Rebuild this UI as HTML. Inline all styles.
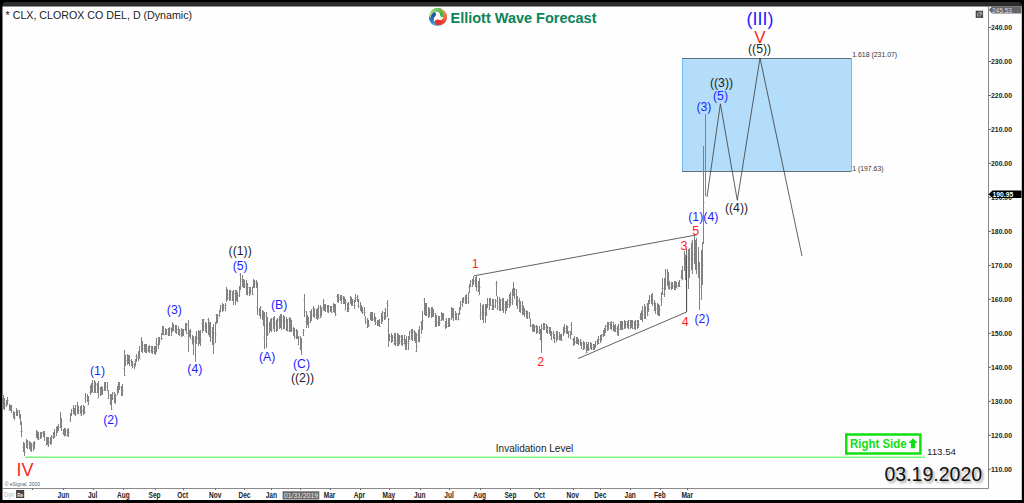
<!DOCTYPE html>
<html><head><meta charset="utf-8"><style>
html,body{margin:0;padding:0;background:#000;}
svg{display:block;}
text{font-family:'Liberation Sans',sans-serif;}
</style></head><body>
<svg width="1024" height="503" viewBox="0 0 1024 503">
<rect x="0" y="0" width="1024" height="503" fill="#000"/>
<rect x="2.5" y="2" width="1019.3" height="20" rx="3.5" fill="#2b2b2b"/>
<rect x="2.5" y="6.5" width="1019.3" height="493.5" fill="#fefefe"/>
<path d="M988.5 6.5V488.5M2.5 488.5H988.5" stroke="#8a8a8a" stroke-width="1" fill="none"/>
<rect x="682" y="58" width="170" height="114" fill="#b4ddfa"/>
<path d="M682.5 58V172M851.5 58V172" stroke="#6fbdf6" stroke-width="1" shape-rendering="crispEdges"/>
<path d="M682 58.5H851M682 171.5H851" stroke="#5f6f7c" stroke-width="1" shape-rendering="crispEdges"/>
<path d="M25 457.3H925" stroke="#78f878" stroke-width="1.4"/>
<path d="M2 396.5H3M4 403.5H5M3 399.5H4M5 403.5H6M5 405.5H6M7 401.5H8M6 402.5H7M8 400.5H9M8 410.5H9M10 406.5H11M9 410.5H10M11 406.5H12M10 409.5H11M12 406.5H13M12 414.5H13M14 413.5H15M13 418.5H14M15 417.5H16M15 412.5H16M17 415.5H18M16 410.5H17M18 412.5H19M18 410.5H19M20 415.5H21M19 418.5H20M21 421.5H22M20 431.5H21M22 431.5H23M22 447.5H23M24 449.5H25M23 444.5H24M25 452.5H26M25 442.5H26M27 443.5H28M26 442.5H27M28 441.5H29M28 443.5H29M30 444.5H31M29 447.5H30M31 450.5H32M30 445.5H31M32 446.5H33M32 444.5H33M34 444.5H35M33 446.5H34M35 443.5H36M35 434.5H36M37 437.5H38M36 436.5H37M38 432.5H39M37 439.5H38M39 439.5H40M39 437.5H40M41 432.5H42M40 434.5H41M42 432.5H43M42 433.5H43M44 431.5H45M43 433.5H44M45 434.5H46M45 445.5H46M47 441.5H48M46 440.5H47M48 439.5H49M47 446.5H48M49 442.5H50M49 441.5H50M51 445.5H52M50 438.5H51M52 436.5H53M52 437.5H53M54 434.5H55M53 437.5H54M55 436.5H56M55 433.5H56M57 429.5H58M56 426.5H57M58 426.5H59M57 430.5H58M59 427.5H60M59 427.5H60M61 428.5H62M60 421.5H61M62 421.5H63M62 433.5H63M64 435.5H65M63 433.5H64M65 434.5H66M64 436.5H65M66 435.5H67M66 430.5H67M68 435.5H69M67 436.5H68M69 432.5H70M69 419.5H70M71 415.5H72M70 414.5H71M72 410.5H73M72 408.5H73M74 410.5H75M73 412.5H74M75 412.5H76M74 414.5H75M76 414.5H77M76 405.5H77M78 405.5H79M77 408.5H78M79 410.5H80M79 410.5H80M81 411.5H82M80 415.5H81M82 411.5H83M82 410.5H83M84 407.5H85M83 410.5H84M85 412.5H86M84 398.5H85M86 400.5H87M86 396.5H87M88 400.5H89M87 404.5H88M89 400.5H90M89 392.5H90M91 389.5H92M90 390.5H91M92 392.5H93M91 387.5H92M93 392.5H94M93 386.5H94M95 381.5H96M94 391.5H95M96 392.5H97M96 384.5H97M98 392.5H99M97 398.5H98M99 388.5H100M99 388.5H100M101 391.5H102M100 389.5H101M102 392.5H103M101 387.5H102M103 390.5H104M103 390.5H104M105 389.5H106M104 384.5H105M106 382.5H107M106 386.5H107M108 390.5H109M107 398.5H108M109 395.5H110M109 402.5H110M111 399.5H112M110 395.5H111M112 409.5H113M111 399.5H112M113 393.5H114M113 398.5H114M115 402.5H116M114 396.5H115M116 395.5H117M116 389.5H117M118 389.5H119M117 384.5H118M119 386.5H120M118 388.5H119M120 387.5H121M120 387.5H121M122 394.5H123M121 389.5H122M123 390.5H124M123 368.5H124M125 375.5H126M124 362.5H125M126 360.5H127M126 355.5H127M128 362.5H129M127 363.5H128M129 363.5H130M128 358.5H129M130 360.5H131M130 366.5H131M132 366.5H133M131 368.5H132M133 364.5H134M133 366.5H134M135 366.5H136M134 361.5H135M136 360.5H137M135 356.5H136M137 356.5H138M137 358.5H138M139 358.5H140M138 351.5H139M140 359.5H141M140 339.5H141M142 348.5H143M141 351.5H142M143 348.5H144M143 345.5H144M145 348.5H146M144 351.5H145M146 351.5H147M145 350.5H146M147 350.5H148M147 348.5H148M149 346.5H150M148 350.5H149M150 350.5H151M150 346.5H151M152 352.5H153M151 350.5H152M153 351.5H154M153 348.5H154M155 347.5H156M154 348.5H155M156 352.5H157M155 343.5H156M157 345.5H158M157 344.5H158M159 337.5H160M158 339.5H159M160 341.5H161M160 338.5H161M162 338.5H163M161 330.5H162M163 330.5H164M162 334.5H163M164 334.5H165M164 335.5H165M166 331.5H167M165 330.5H166M167 333.5H168M167 329.5H168M169 334.5H170M168 333.5H169M170 329.5H171M170 328.5H171M172 328.5H173M171 327.5H172M173 327.5H174M172 326.5H173M174 330.5H175M174 326.5H175M176 332.5H177M175 328.5H176M177 329.5H178M177 332.5H178M179 330.5H180M178 329.5H179M180 334.5H181M180 330.5H181M182 330.5H183M181 335.5H182M183 335.5H184M182 336.5H183M184 336.5H185M184 329.5H185M186 327.5H187M185 323.5H186M187 333.5H188M187 324.5H188M189 335.5H190M188 337.5H189M190 332.5H191M189 333.5H190M191 331.5H192M191 339.5H192M193 337.5H194M192 344.5H193M194 339.5H195M194 341.5H195M196 338.5H197M195 334.5H196M197 338.5H198M197 337.5H198M199 337.5H200M198 332.5H199M200 335.5H201M199 338.5H200M201 340.5H202M201 323.5H202M203 325.5H204M202 329.5H203M204 319.5H205M204 326.5H205M206 328.5H207M205 331.5H206M207 332.5H208M207 319.5H208M209 320.5H210M208 333.5H209M210 332.5H211M209 323.5H210M211 337.5H212M211 332.5H212M213 329.5H214M212 332.5H213M214 343.5H215M214 333.5H215M216 334.5H217M215 314.5H216M217 317.5H218M216 322.5H217M218 318.5H219M218 315.5H219M220 312.5H221M219 308.5H220M221 307.5H222M221 305.5H222M223 304.5H224M222 309.5H223M224 305.5H225M224 307.5H225M226 305.5H227M225 299.5H226M227 290.5H228M226 299.5H227M228 294.5H229M228 297.5H229M230 300.5H231M229 300.5H230M231 291.5H232M231 300.5H232M233 300.5H234M232 295.5H233M234 293.5H235M234 290.5H235M236 300.5H237M235 292.5H236M237 290.5H238M236 293.5H237M238 301.5H239M238 295.5H239M240 291.5H241M239 274.5H240M241 281.5H242M241 279.5H242M243 286.5H244M242 286.5H243M244 279.5H245M243 282.5H244M245 286.5H246M245 284.5H246M247 295.5H248M246 287.5H247M248 287.5H249M248 292.5H249M250 295.5H251M249 294.5H250M251 294.5H252M251 291.5H252M253 294.5H254M252 286.5H253M254 286.5H255M253 283.5H254M255 283.5H256M255 281.5H256M257 282.5H258M256 307.5H257M258 290.5H259M258 310.5H259M260 316.5H261M259 310.5H260M261 307.5H262M261 315.5H262M263 313.5H264M262 322.5H263M264 324.5H265M263 337.5H264M265 316.5H266M265 325.5H266M267 338.5H268M266 320.5H267M268 334.5H269M268 333.5H269M270 328.5H271M269 330.5H270M271 320.5H272M270 330.5H271M272 319.5H273M272 329.5H273M274 324.5H275M273 330.5H274M275 324.5H276M275 322.5H276M277 327.5H278M276 319.5H277M278 320.5H279M278 319.5H279M280 316.5H281M279 319.5H280M281 317.5H282M280 316.5H281M282 321.5H283M282 317.5H283M284 325.5H285M283 329.5H284M285 320.5H286M285 329.5H286M287 331.5H288M286 321.5H287M288 319.5H289M288 330.5H289M290 323.5H291M289 320.5H290M291 318.5H292M290 321.5H291M292 328.5H293M292 330.5H293M294 332.5H295M293 333.5H294M295 336.5H296M295 330.5H296M297 338.5H298M296 330.5H297M298 338.5H299M297 344.5H298M299 337.5H300M299 348.5H300M301 348.5H302M300 341.5H301M302 342.5H303M302 332.5H303M304 330.5H305M303 300.5H304M305 311.5H306M305 321.5H306M307 324.5H308M306 321.5H307M308 321.5H309M307 324.5H308M309 322.5H310M309 311.5H310M311 318.5H312M310 318.5H311M312 315.5H313M312 308.5H313M314 311.5H315M313 309.5H314M315 314.5H316M315 314.5H316M317 310.5H318M316 310.5H317M318 318.5H319M317 316.5H318M319 307.5H320M319 318.5H320M321 317.5H322M320 308.5H321M322 310.5H323M322 307.5H323M324 301.5H325M323 310.5H324M325 305.5H326M324 305.5H325M326 306.5H327M326 306.5H327M328 306.5H329M327 312.5H328M329 306.5H330M329 310.5H330M331 308.5H332M330 310.5H331M332 312.5H333M332 306.5H333M334 310.5H335M333 307.5H334M335 311.5H336M334 305.5H335M336 314.5H337M336 296.5H337M338 299.5H339M337 300.5H338M339 297.5H340M339 299.5H340M341 298.5H342M340 296.5H341M342 297.5H343M342 298.5H343M344 296.5H345M343 301.5H344M345 299.5H346M344 310.5H345M346 302.5H347M346 311.5H347M348 310.5H349M347 309.5H348M349 308.5H350M349 304.5H350M351 302.5H352M350 298.5H351M352 302.5H353M351 304.5H352M353 299.5H354M353 301.5H354M355 305.5H356M354 298.5H355M356 299.5H357M356 297.5H357M358 296.5H359M357 305.5H358M359 300.5H360M359 306.5H360M361 308.5H362M360 306.5H361M362 307.5H363M361 312.5H362M363 312.5H364M363 310.5H364M365 312.5H366M364 318.5H365M366 321.5H367M366 327.5H367M368 318.5H369M367 327.5H368M369 325.5H370M369 315.5H370M371 314.5H372M370 318.5H371M372 318.5H373M371 320.5H372M373 319.5H374M373 318.5H374M375 316.5H376M374 324.5H375M376 318.5H377M376 322.5H377M378 321.5H379M377 324.5H378M379 324.5H380M378 322.5H379M380 326.5H381M380 322.5H381M382 323.5H383M381 313.5H382M383 312.5H384M383 317.5H384M385 319.5H386M384 309.5H385M386 316.5H387M386 303.5H387M388 305.5H389M387 330.5H388M389 319.5H390M388 336.5H389M390 336.5H391M390 341.5H391M392 339.5H393M391 340.5H392M393 337.5H394M393 343.5H394M395 334.5H396M394 336.5H395M396 343.5H397M396 340.5H397M398 340.5H399M397 338.5H398M399 344.5H400M398 337.5H399M400 341.5H401M400 336.5H401M402 343.5H403M401 339.5H402M403 339.5H404M403 343.5H404M405 335.5H406M404 344.5H405M406 343.5H407M405 342.5H406M407 343.5H408M407 341.5H408M409 341.5H410M408 337.5H409M410 332.5H411M410 330.5H411M412 334.5H413M411 331.5H412M413 332.5H414M413 331.5H414M415 332.5H416M414 335.5H415M416 334.5H417M415 351.5H416M417 346.5H418M417 335.5H418M419 342.5H420M418 329.5H419M420 337.5H421M420 322.5H421M422 326.5H423M421 323.5H422M423 320.5H424M423 300.5H424M425 308.5H426M424 309.5H425M426 311.5H427M425 312.5H426M427 314.5H428M427 314.5H428M429 314.5H430M428 308.5H429M430 312.5H431M430 310.5H431M432 311.5H433M431 314.5H432M433 316.5H434M432 312.5H433M434 313.5H435M434 321.5H435M436 315.5H437M435 316.5H436M437 322.5H438M437 322.5H438M439 325.5H440M438 318.5H439M440 323.5H441M440 320.5H441M442 315.5H443M441 313.5H442M443 316.5H444M442 316.5H443M444 315.5H445M444 325.5H445M446 323.5H447M445 319.5H446M447 326.5H448M447 323.5H448M449 320.5H450M448 324.5H449M450 325.5H451M450 318.5H451M452 313.5H453M451 316.5H452M453 311.5H454M452 311.5H453M454 314.5H455M454 314.5H455M456 313.5H457M455 316.5H456M457 318.5H458M457 320.5H458M459 319.5H460M458 314.5H459M460 313.5H461M459 307.5H460M461 301.5H462M461 304.5H462M463 300.5H464M462 302.5H463M464 299.5H465M464 297.5H465M466 303.5H467M465 303.5H466M467 302.5H468M467 298.5H468M469 301.5H470M468 287.5H469M470 286.5H471M469 284.5H470M471 281.5H472M471 286.5H472M473 279.5H474M472 284.5H473M474 280.5H475M474 281.5H475M476 282.5H477M475 286.5H476M477 286.5H478M477 291.5H478M479 285.5H480M478 295.5H479M480 287.5H481M479 315.5H480M481 314.5H482M481 312.5H482M483 313.5H484M482 312.5H483M484 314.5H485M484 312.5H485M486 314.5H487M485 311.5H486M487 313.5H488M486 304.5H487M488 304.5H489M488 308.5H489M490 304.5H491M489 299.5H490M491 305.5H492M491 309.5H492M493 305.5H494M492 305.5H493M494 306.5H495M494 305.5H495M496 300.5H497M495 284.5H496M497 282.5H498M496 301.5H497M498 307.5H499M498 301.5H499M500 303.5H501M499 310.5H500M501 300.5H502M501 309.5H502M503 306.5H504M502 298.5H503M504 304.5H505M504 307.5H505M506 306.5H507M505 302.5H506M507 301.5H508M506 308.5H507M508 300.5H509M508 304.5H509M510 297.5H511M509 303.5H510M511 302.5H512M511 299.5H512M513 300.5H514M512 288.5H513M514 295.5H515M513 289.5H514M515 289.5H516M515 294.5H516M517 302.5H518M516 297.5H517M518 301.5H519M518 300.5H519M520 309.5H521M519 306.5H520M521 306.5H522M521 309.5H522M523 305.5H524M522 314.5H523M524 309.5H525M523 313.5H524M525 311.5H526M525 313.5H526M527 316.5H528M526 318.5H527M528 313.5H529M528 316.5H529M530 318.5H531M529 325.5H530M531 325.5H532M531 326.5H532M533 330.5H534M532 331.5H533M534 327.5H535M533 331.5H534M535 326.5H536M535 327.5H536M537 330.5H538M536 328.5H537M538 331.5H539M538 333.5H539M540 332.5H541M539 339.5H540M541 335.5H542M540 338.5H541M542 341.5H543M542 328.5H543M544 326.5H545M543 326.5H544M545 324.5H546M545 327.5H546M547 325.5H548M546 327.5H547M548 331.5H549M548 327.5H549M550 334.5H551M549 329.5H550M551 334.5H552M550 338.5H551M552 340.5H553M552 333.5H553M554 332.5H555M553 338.5H554M555 342.5H556M555 338.5H556M557 335.5H558M556 333.5H557M558 336.5H559M558 338.5H559M560 335.5H561M559 340.5H560M561 335.5H562M560 340.5H561M562 340.5H563M562 333.5H563M564 333.5H565M563 326.5H564M565 331.5H566M565 328.5H566M567 330.5H568M566 328.5H567M568 327.5H569M567 332.5H568M569 335.5H570M569 331.5H570M571 339.5H572M570 325.5H571M572 334.5H573M572 339.5H573M574 341.5H575M573 343.5H574M575 341.5H576M575 342.5H576M577 340.5H578M576 338.5H577M578 342.5H579M577 340.5H578M579 341.5H580M579 341.5H580M581 340.5H582M580 343.5H581M582 349.5H583M582 343.5H583M584 346.5H585M583 345.5H584M585 349.5H586M585 353.5H586M587 352.5H588M586 345.5H587M588 349.5H589M587 342.5H588M589 349.5H590M589 348.5H590M591 346.5H592M590 345.5H591M592 347.5H593M592 349.5H593M594 345.5H595M593 347.5H594M595 346.5H596M594 347.5H595M596 345.5H597M596 341.5H597M598 343.5H599M597 343.5H598M599 343.5H600M599 339.5H600M601 342.5H602M600 336.5H601M602 335.5H603M602 334.5H603M604 333.5H605M603 335.5H604M605 335.5H606M604 331.5H605M606 325.5H607M606 326.5H607M608 327.5H609M607 324.5H608M609 324.5H610M609 322.5H610M611 323.5H612M610 326.5H611M612 326.5H613M612 330.5H613M614 329.5H615M613 329.5H614M615 327.5H616M614 329.5H615M616 331.5H617M616 328.5H617M618 333.5H619M617 335.5H618M619 329.5H620M619 325.5H620M621 329.5H622M620 324.5H621M622 325.5H623M621 329.5H622M623 328.5H624M623 328.5H624M625 328.5H626M624 323.5H625M626 324.5H627M626 321.5H627M628 322.5H629M627 328.5H628M629 325.5H630M629 320.5H630M631 326.5H632M630 325.5H631M632 328.5H633M631 324.5H632M633 328.5H634M633 322.5H634M635 326.5H636M634 323.5H635M636 324.5H637M636 321.5H637M638 323.5H639M637 321.5H638M639 324.5H640M639 317.5H640M641 318.5H642M640 316.5H641M642 317.5H643M641 310.5H642M643 314.5H644M643 310.5H644M645 317.5H646M644 309.5H645M646 319.5H647M646 304.5H647M648 314.5H649M647 305.5H648M649 309.5H650M648 302.5H649M650 296.5H651M650 300.5H651M652 303.5H653M651 303.5H652M653 303.5H654M653 310.5H654M655 302.5H656M654 309.5H655M656 308.5H657M656 308.5H657M658 312.5H659M657 309.5H658M659 309.5H660M658 311.5H659M660 309.5H661M660 299.5H661M662 298.5H663M661 288.5H662M663 288.5H664M663 294.5H664M665 294.5H666M664 289.5H665M666 273.5H667M666 270.5H667M668 279.5H669M667 281.5H668M669 289.5H670M668 284.5H669M670 284.5H671M670 287.5H671M672 286.5H673M671 286.5H672M673 286.5H674M673 285.5H674M675 285.5H676M674 284.5H675M676 285.5H677M675 284.5H676M677 288.5H678M677 286.5H678M679 285.5H680M678 281.5H679M680 286.5H681M680 276.5H681M682 277.5H683M681 280.5H682M683 278.5H684M683 259.5H684M685 254.5H686M684 262.5H685M686 268.5H687M685 285.5H686M687 267.5H688M687 256.5H688M689 274.5H690M688 266.5H689M690 259.5H691M690 270.5H691M692 260.5H693M691 241.5H692M693 254.5H694M693 258.5H694M695 245.5H696M694 261.5H695M696 240.5H697M695 249.5H696M697 268.5H698M697 265.5H698M699 268.5H700M698 271.5H699M700 286.5H701M700 278.5H701M702 263.5H703M701 270.5H702M703 265.5H704M702 244.5H703M704 202.5H705M704 148.5H705M706 124.5H707" stroke="#cdcdcd" stroke-width="1" fill="none" shape-rendering="crispEdges"/>
<path d="M3.5 395V409M4.5 398V410M6.5 400V407M7.5 397V405M9.5 404V410M10.5 405V411M11.5 405V413M13.5 411V418M14.5 412V420M16.5 408V416M17.5 410V416M19.5 410V418M20.5 414V425M21.5 422V437M23.5 442V452M24.5 443V456M26.5 439V448M27.5 440V449M29.5 441V449M30.5 442V451M31.5 443V452M33.5 442V451M34.5 441V449M36.5 430V438M37.5 431V439M38.5 432V440M40.5 432V439M41.5 432V438M43.5 431V437M44.5 431V441M46.5 437V445M47.5 437V445M48.5 437V447M50.5 437V445M51.5 435V444M53.5 432V439M54.5 429V438M56.5 427V436M57.5 426V433M58.5 424V431M60.5 412V428M61.5 418V431M63.5 429V435M64.5 428V436M65.5 428V436M67.5 429V436M68.5 428V437M70.5 413V422M71.5 409V416M73.5 405V414M74.5 408V415M75.5 405V416M77.5 402V414M78.5 406V414M80.5 406V414M81.5 405V416M83.5 405V415M84.5 406V414M85.5 393V403M87.5 394V402M88.5 396V405M90.5 385V395M91.5 383V393M92.5 380V392M94.5 380V393M95.5 382V393M97.5 383V393M98.5 381V398M100.5 387V396M101.5 386V395M102.5 387V395M104.5 382V391M105.5 382V391M107.5 382V391M108.5 390V399M110.5 394V405M111.5 394V410M112.5 392V400M114.5 392V403M115.5 394V404M117.5 386V395M118.5 382V393M119.5 382V390M121.5 386V396M122.5 384V396M124.5 350V376M125.5 355V366M127.5 354V365M128.5 355V364M129.5 355V366M131.5 359V366M132.5 361V368M134.5 363V369M135.5 359V366M136.5 354V362M138.5 351V361M139.5 346V359M141.5 337V352M142.5 341V353M144.5 344V352M145.5 344V353M146.5 344V353M148.5 346V352M149.5 345V353M151.5 346V353M152.5 346V354M154.5 346V354M155.5 346V355M156.5 338V352M158.5 337V349M159.5 337V345M161.5 333V340M162.5 326V335M163.5 326V335M165.5 328V335M166.5 329V335M168.5 328V336M169.5 327V336M171.5 328V336M172.5 322V332M173.5 324V331M175.5 325V333M176.5 325V334M178.5 326V335M179.5 329V336M181.5 328V337M182.5 329V336M183.5 329V336M185.5 323V331M186.5 323V334M188.5 320V352M189.5 330V337M190.5 329V339M192.5 335V344M193.5 336V355M195.5 336V362M196.5 331V344M198.5 330V346M199.5 331V344M200.5 330V346M202.5 319V333M203.5 319V331M205.5 322V332M206.5 323V333M208.5 318V335M209.5 322V337M210.5 322V342M212.5 327V345M213.5 324V354M215.5 322V343M216.5 314V324M217.5 314V323M219.5 310V317M220.5 305V312M222.5 303V312M223.5 304V311M225.5 303V311M226.5 287V302M227.5 289V300M229.5 290V301M230.5 290V300M232.5 291V301M233.5 290V305M235.5 290V305M236.5 290V301M237.5 292V302M239.5 286V297M240.5 273V290M242.5 275V287M243.5 279V288M244.5 280V288M246.5 280V295M247.5 283V295M249.5 287V296M250.5 287V294M252.5 287V295M253.5 279V288M254.5 280V288M256.5 280V288M257.5 282V315M259.5 308V316M260.5 306V319M262.5 310V320M263.5 311V326M264.5 312V349M266.5 312V348M267.5 317V336M269.5 322V333M270.5 319V331M271.5 318V332M273.5 317V329M274.5 316V332M276.5 320V332M277.5 318V331M279.5 316V329M280.5 314V328M281.5 314V330M283.5 315V329M284.5 316V329M286.5 317V331M287.5 319V331M289.5 317V332M290.5 318V332M291.5 320V332M293.5 327V336M294.5 328V339M296.5 329V339M297.5 330V339M298.5 336V345M300.5 336V350M301.5 338V355M303.5 329V336M304.5 294V317M306.5 311V328M307.5 315V325M308.5 317V328M310.5 311V323M311.5 309V321M313.5 306V317M314.5 308V318M316.5 309V319M317.5 308V320M318.5 305V318M320.5 305V318M321.5 307V316M323.5 299V310M324.5 304V311M325.5 304V312M327.5 305V312M328.5 305V313M330.5 306V312M331.5 306V313M333.5 303V312M334.5 304V313M335.5 304V316M337.5 294V302M338.5 294V303M340.5 295V301M341.5 295V304M343.5 296V304M344.5 297V304M345.5 299V310M347.5 303V312M348.5 302V312M350.5 296V304M351.5 297V306M352.5 299V306M354.5 300V309M355.5 294V302M357.5 295V302M358.5 299V308M360.5 302V311M361.5 305V312M362.5 307V314M364.5 307V316M365.5 316V324M367.5 318V328M368.5 320V327M370.5 312V320M371.5 312V321M372.5 312V321M374.5 313V322M375.5 317V325M377.5 320V326M378.5 320V326M379.5 319V327M381.5 313V324M382.5 311V322M384.5 312V320M385.5 308V319M387.5 300V317M388.5 318V347M389.5 334V341M391.5 333V343M392.5 335V342M394.5 333V345M395.5 333V346M397.5 333V346M398.5 334V346M399.5 335V344M401.5 335V345M402.5 335V346M404.5 335V344M405.5 339V350M406.5 336V350M408.5 336V350M409.5 331V340M411.5 329V340M412.5 329V341M414.5 330V341M415.5 332V343M416.5 333V352M418.5 330V342M419.5 326V342M421.5 321V334M422.5 311V330M424.5 298V315M425.5 303V316M426.5 303V316M428.5 307V318M429.5 308V317M431.5 307V318M432.5 307V317M433.5 309V317M435.5 313V327M436.5 315V327M438.5 316V326M439.5 316V326M441.5 312V321M442.5 313V320M443.5 313V321M445.5 321V329M446.5 318V328M448.5 318V327M449.5 318V327M451.5 307V320M452.5 308V318M453.5 308V321M455.5 311V320M456.5 313V320M458.5 313V320M459.5 307V315M460.5 301V310M462.5 298V307M463.5 297V303M465.5 295V304M466.5 294V304M468.5 292V304M469.5 284V293M470.5 280V287M472.5 279V287M473.5 276V285M475.5 277V287M476.5 276V291M478.5 281V292M479.5 278V295M480.5 303V320M482.5 305V320M483.5 304V323M485.5 304V323M486.5 304V316M487.5 298V308M489.5 298V310M490.5 298V306M492.5 299V310M493.5 299V310M495.5 299V308M496.5 281V296M497.5 296V310M499.5 297V311M500.5 299V311M502.5 298V311M503.5 298V313M505.5 301V314M506.5 301V311M507.5 299V308M509.5 294V308M510.5 292V306M512.5 289V305M513.5 282V296M514.5 288V299M516.5 289V306M517.5 296V309M519.5 298V312M520.5 301V313M522.5 301V315M523.5 306V315M524.5 308V317M526.5 310V318M527.5 311V319M529.5 312V319M530.5 319V327M532.5 324V331M533.5 324V332M534.5 325V332M536.5 325V334M537.5 326V333M539.5 326V334M540.5 329V340M541.5 324V353M543.5 323V330M544.5 323V330M546.5 324V333M547.5 326V334M549.5 327V334M550.5 327V336M551.5 331V340M553.5 331V339M554.5 334V343M556.5 331V342M557.5 331V340M559.5 332V340M560.5 334V340M561.5 334V341M563.5 327V336M564.5 324V333M566.5 325V334M567.5 326V334M568.5 331V338M570.5 331V339M571.5 322V335M573.5 338V346M574.5 336V345M576.5 337V344M577.5 337V344M578.5 339V345M580.5 339V346M581.5 342V349M583.5 341V350M584.5 342V349M586.5 342V353M587.5 344V351M588.5 342V351M590.5 342V349M591.5 343V350M593.5 344V350M594.5 344V350M595.5 341V348M597.5 339V345M598.5 336V344M600.5 335V343M601.5 334V341M603.5 330V337M604.5 328V336M605.5 325V333M607.5 322V331M608.5 322V330M610.5 322V329M611.5 321V330M613.5 322V331M614.5 325V332M615.5 324V332M617.5 326V335M618.5 324V336M620.5 321V330M621.5 321V330M622.5 321V330M624.5 320V329M625.5 321V328M627.5 321V328M628.5 320V329M630.5 320V329M631.5 320V328M632.5 320V329M634.5 321V329M635.5 320V330M637.5 320V329M638.5 320V328M640.5 313V320M641.5 311V320M642.5 306V322M644.5 304V319M645.5 306V319M647.5 303V316M648.5 300V312M649.5 295V304M651.5 294V304M652.5 293V306M654.5 300V311M655.5 303V314M657.5 303V315M658.5 304V316M659.5 305V316M661.5 292V306M662.5 278V295M664.5 278V297M665.5 269V290M667.5 269V286M668.5 272V289M669.5 281V290M671.5 282V290M672.5 282V289M674.5 281V290M675.5 281V290M676.5 282V288M678.5 282V287M679.5 280V287M681.5 270V279M682.5 266V280M684.5 251V271M685.5 255V280M686.5 257V312M688.5 249V289M689.5 248V278M691.5 243V270M692.5 240V274M694.5 236V264M695.5 240V270M696.5 238V274M698.5 247V278M699.5 262V310M701.5 250V300M702.5 242V285M703.5 146V244M705.5 114V196" stroke="#828282" stroke-width="1" fill="none" shape-rendering="crispEdges"/>
<path d="M474.2 275.8L697 234.8M578 358.6L686.6 312M686.6 312V249" stroke="#3a3a3a" stroke-width="0.8" fill="none"/>
<path d="M707 197L720.4 103.8L737.3 200.3L760 58L802 256" stroke="#3a3a3a" stroke-width="0.8" fill="none"/>
<text x="97.5" y="375.0" font-size="12.3" fill="#1f1fff" font-weight="normal" text-anchor="middle" >(1)</text>
<text x="110.7" y="423.7" font-size="12.3" fill="#1f1fff" font-weight="normal" text-anchor="middle" >(2)</text>
<text x="174.3" y="314.3" font-size="12.3" fill="#1f1fff" font-weight="normal" text-anchor="middle" >(3)</text>
<text x="194.8" y="373.2" font-size="12.3" fill="#1f1fff" font-weight="normal" text-anchor="middle" >(4)</text>
<text x="240.2" y="269.8" font-size="12.3" fill="#1f1fff" font-weight="normal" text-anchor="middle" >(5)</text>
<text x="279.1" y="308.5" font-size="12.3" fill="#1f1fff" font-weight="normal" text-anchor="middle" >(B)</text>
<text x="267.1" y="361.0" font-size="12.3" fill="#1f1fff" font-weight="normal" text-anchor="middle" >(A)</text>
<text x="301.5" y="368.0" font-size="12.3" fill="#1f1fff" font-weight="normal" text-anchor="middle" >(C)</text>
<text x="702.0" y="323.1" font-size="12.3" fill="#1f1fff" font-weight="normal" text-anchor="middle" >(2)</text>
<text x="703.3" y="221.1" font-size="12.3" fill="#1f1fff" font-weight="normal" text-anchor="middle" >(1)(4)</text>
<text x="703.9" y="110.9" font-size="12.3" fill="#1f1fff" font-weight="normal" text-anchor="middle" >(3)</text>
<text x="720.5" y="100.1" font-size="12.3" fill="#1f1fff" font-weight="normal" text-anchor="middle" >(5)</text>
<text x="760" y="25.2" font-size="17.5" fill="#1f1fff" font-weight="normal" text-anchor="middle" textLength="26.8" lengthAdjust="spacingAndGlyphs" >(III)</text>
<text x="240.2" y="254.5" font-size="12.3" fill="#1e1e1e" font-weight="normal" text-anchor="middle" >((1))</text>
<text x="302.5" y="381.5" font-size="12.3" fill="#1e1e1e" font-weight="normal" text-anchor="middle" >((2))</text>
<text x="721.5" y="87.0" font-size="12.3" fill="#1e1e1e" font-weight="normal" text-anchor="middle" >((3))</text>
<text x="736.5" y="212.1" font-size="12.3" fill="#1e1e1e" font-weight="normal" text-anchor="middle" >((4))</text>
<text x="759.6" y="53.3" font-size="12.3" fill="#1e1e1e" font-weight="normal" text-anchor="middle" >((5))</text>
<text x="475.3" y="268" font-size="12.5" fill="#ff1f1f" font-weight="normal" text-anchor="middle" >1</text>
<text x="540.8" y="366.3" font-size="12.5" fill="#ff1f1f" font-weight="normal" text-anchor="middle" >2</text>
<text x="684.0" y="250" font-size="12.5" fill="#ff1f1f" font-weight="normal" text-anchor="middle" >3</text>
<text x="685.2" y="325.6" font-size="12.5" fill="#ff1f1f" font-weight="normal" text-anchor="middle" >4</text>
<text x="695.8" y="234.7" font-size="12.5" fill="#ff1f1f" font-weight="normal" text-anchor="middle" >5</text>
<text x="760" y="42.6" font-size="17" fill="#ff1f1f" font-weight="normal" text-anchor="middle" >V</text>
<text x="25" y="475.5" font-size="18" fill="#ff1f1f" font-weight="normal" text-anchor="middle" >IV</text>
<text x="5.6" y="18.9" font-size="10.7" fill="#222" font-weight="normal" text-anchor="start" textLength="186.5" lengthAdjust="spacingAndGlyphs" >* CLX, CLOROX CO DEL, D (Dynamic)</text>
<text x="450.5" y="22.7" font-size="14.3" fill="#0b8457" font-weight="bold" text-anchor="start" textLength="146" lengthAdjust="spacingAndGlyphs" >Elliott Wave Forecast</text>
<circle cx="442.37" cy="23.29" r="0.25" fill="#7fd0f0"/><circle cx="441.88" cy="23.61" r="0.51" fill="#7ccdee"/><circle cx="441.37" cy="23.89" r="0.65" fill="#7ac9ec"/><circle cx="440.83" cy="24.12" r="0.76" fill="#77c6ea"/><circle cx="440.28" cy="24.32" r="0.85" fill="#74c3e8"/><circle cx="439.71" cy="24.47" r="0.94" fill="#72bfe6"/><circle cx="439.14" cy="24.57" r="1.02" fill="#6fbce4"/><circle cx="438.56" cy="24.63" r="1.09" fill="#6cb9e2"/><circle cx="437.98" cy="24.64" r="1.16" fill="#6ab5e0"/><circle cx="437.40" cy="24.60" r="1.23" fill="#67b2de"/><circle cx="436.82" cy="24.52" r="1.29" fill="#64afdc"/><circle cx="436.26" cy="24.39" r="1.35" fill="#62abda"/><circle cx="435.71" cy="24.21" r="1.41" fill="#5fa8d8"/><circle cx="435.18" cy="23.99" r="1.47" fill="#5ca5d6"/><circle cx="434.67" cy="23.73" r="1.53" fill="#5aa1d4"/><circle cx="434.19" cy="23.43" r="1.58" fill="#579ed2"/><circle cx="433.74" cy="23.09" r="1.63" fill="#549bd0"/><circle cx="433.32" cy="22.72" r="1.68" fill="#5297ce"/><circle cx="432.94" cy="22.31" r="1.73" fill="#4f94cc"/><circle cx="432.60" cy="21.88" r="1.78" fill="#4c91ca"/><circle cx="432.29" cy="21.42" r="1.83" fill="#4a8dc8"/><circle cx="432.03" cy="20.94" r="1.88" fill="#478ac6"/><circle cx="431.82" cy="20.45" r="1.92" fill="#4487c4"/><circle cx="431.65" cy="19.94" r="1.97" fill="#4283c2"/><circle cx="431.53" cy="19.43" r="2.01" fill="#3f80c0"/><circle cx="431.45" cy="18.92" r="2.06" fill="#3c7dbe"/><circle cx="431.42" cy="18.40" r="2.10" fill="#3a79bc"/><circle cx="431.44" cy="17.89" r="2.14" fill="#3776ba"/><circle cx="431.51" cy="17.40" r="2.19" fill="#3473b8"/><circle cx="431.61" cy="16.92" r="2.23" fill="#326fb6"/><circle cx="431.76" cy="16.45" r="2.27" fill="#2f6cb4"/><circle cx="431.95" cy="16.01" r="2.31" fill="#2c69b2"/><circle cx="432.18" cy="15.60" r="2.35" fill="#2a65b0"/><circle cx="432.44" cy="15.22" r="2.39" fill="#2762ae"/><circle cx="432.74" cy="14.88" r="2.42" fill="#245fac"/><circle cx="433.05" cy="14.57" r="2.46" fill="#225baa"/><circle cx="433.40" cy="14.30" r="2.50" fill="#1f58a8"/><circle cx="430.13" cy="17.58" r="0.25" fill="#c4e49a"/><circle cx="430.10" cy="16.98" r="0.51" fill="#c1e398"/><circle cx="430.12" cy="16.37" r="0.65" fill="#bde195"/><circle cx="430.19" cy="15.77" r="0.76" fill="#bae093"/><circle cx="430.30" cy="15.18" r="0.85" fill="#b7df90"/><circle cx="430.47" cy="14.60" r="0.94" fill="#b3dd8e"/><circle cx="430.68" cy="14.03" r="1.02" fill="#b0dc8c"/><circle cx="430.93" cy="13.49" r="1.09" fill="#acda89"/><circle cx="431.24" cy="12.97" r="1.16" fill="#a9d987"/><circle cx="431.58" cy="12.47" r="1.23" fill="#a6d884"/><circle cx="431.96" cy="12.01" r="1.29" fill="#a2d682"/><circle cx="432.38" cy="11.59" r="1.35" fill="#9fd580"/><circle cx="432.83" cy="11.20" r="1.41" fill="#9cd47d"/><circle cx="433.30" cy="10.85" r="1.47" fill="#98d27b"/><circle cx="433.81" cy="10.55" r="1.53" fill="#95d179"/><circle cx="434.34" cy="10.29" r="1.58" fill="#92d076"/><circle cx="434.88" cy="10.08" r="1.63" fill="#8ece74"/><circle cx="435.44" cy="9.92" r="1.68" fill="#8bcd71"/><circle cx="436.00" cy="9.81" r="1.73" fill="#88cc6f"/><circle cx="436.57" cy="9.75" r="1.78" fill="#84ca6d"/><circle cx="437.13" cy="9.74" r="1.83" fill="#81c96a"/><circle cx="437.69" cy="9.78" r="1.88" fill="#7dc768"/><circle cx="438.24" cy="9.87" r="1.92" fill="#7ac665"/><circle cx="438.77" cy="10.00" r="1.97" fill="#77c563"/><circle cx="439.29" cy="10.19" r="2.01" fill="#73c361"/><circle cx="439.77" cy="10.41" r="2.06" fill="#70c25e"/><circle cx="440.23" cy="10.68" r="2.10" fill="#6dc15c"/><circle cx="440.66" cy="10.98" r="2.14" fill="#69bf5a"/><circle cx="441.05" cy="11.32" r="2.19" fill="#66be57"/><circle cx="441.40" cy="11.68" r="2.23" fill="#63bd55"/><circle cx="441.72" cy="12.07" r="2.27" fill="#5fbb52"/><circle cx="441.98" cy="12.49" r="2.31" fill="#5cba50"/><circle cx="442.20" cy="12.92" r="2.35" fill="#58b84e"/><circle cx="442.38" cy="13.36" r="2.39" fill="#55b74b"/><circle cx="442.50" cy="13.81" r="2.42" fill="#52b649"/><circle cx="442.58" cy="14.26" r="2.46" fill="#4eb446"/><circle cx="442.61" cy="14.70" r="2.50" fill="#4bb344"/><circle cx="441.20" cy="9.83" r="0.25" fill="#f7a070"/><circle cx="441.73" cy="10.11" r="0.51" fill="#f69d6e"/><circle cx="442.25" cy="10.43" r="0.65" fill="#f69a6c"/><circle cx="442.73" cy="10.79" r="0.76" fill="#f6976a"/><circle cx="443.19" cy="11.18" r="0.85" fill="#f59468"/><circle cx="443.61" cy="11.62" r="0.94" fill="#f49066"/><circle cx="444.00" cy="12.08" r="1.02" fill="#f48d64"/><circle cx="444.34" cy="12.58" r="1.09" fill="#f48a62"/><circle cx="444.64" cy="13.10" r="1.16" fill="#f38760"/><circle cx="444.90" cy="13.64" r="1.23" fill="#f2845e"/><circle cx="445.10" cy="14.20" r="1.29" fill="#f2815d"/><circle cx="445.26" cy="14.77" r="1.35" fill="#f27e5b"/><circle cx="445.38" cy="15.36" r="1.41" fill="#f17b59"/><circle cx="445.44" cy="15.95" r="1.47" fill="#f07857"/><circle cx="445.45" cy="16.53" r="1.53" fill="#f07455"/><circle cx="445.41" cy="17.12" r="1.58" fill="#f07153"/><circle cx="445.32" cy="17.69" r="1.63" fill="#ef6e51"/><circle cx="445.18" cy="18.26" r="1.68" fill="#ee6b4f"/><circle cx="444.99" cy="18.80" r="1.73" fill="#ee684d"/><circle cx="444.76" cy="19.32" r="1.78" fill="#ee654b"/><circle cx="444.48" cy="19.82" r="1.83" fill="#ed6249"/><circle cx="444.17" cy="20.28" r="1.88" fill="#ec5f47"/><circle cx="443.82" cy="20.71" r="1.92" fill="#ec5c45"/><circle cx="443.44" cy="21.11" r="1.97" fill="#ec5843"/><circle cx="443.02" cy="21.46" r="2.01" fill="#eb5541"/><circle cx="442.58" cy="21.77" r="2.06" fill="#ea523f"/><circle cx="442.12" cy="22.03" r="2.10" fill="#ea4f3d"/><circle cx="441.65" cy="22.25" r="2.14" fill="#ea4c3c"/><circle cx="441.16" cy="22.42" r="2.19" fill="#e9493a"/><circle cx="440.67" cy="22.54" r="2.23" fill="#e84638"/><circle cx="440.17" cy="22.62" r="2.27" fill="#e84336"/><circle cx="439.68" cy="22.64" r="2.31" fill="#e84034"/><circle cx="439.20" cy="22.62" r="2.35" fill="#e73c32"/><circle cx="438.73" cy="22.55" r="2.39" fill="#e63930"/><circle cx="438.28" cy="22.43" r="2.42" fill="#e6362e"/><circle cx="437.85" cy="22.28" r="2.46" fill="#e6332c"/><circle cx="437.45" cy="22.08" r="2.50" fill="#e5302a"/>
<text x="852.2" y="57.3" font-size="7.2" fill="#333" font-weight="normal" text-anchor="start" textLength="45" lengthAdjust="spacingAndGlyphs" >1.618 (231.07)</text>
<text x="852.2" y="170.6" font-size="7.2" fill="#333" font-weight="normal" text-anchor="start" textLength="31.3" lengthAdjust="spacingAndGlyphs" >1 (197.63)</text>
<text x="495.8" y="452" font-size="10.3" fill="#222" font-weight="normal" text-anchor="start" textLength="77.4" lengthAdjust="spacingAndGlyphs" >Invalidation Level</text>
<rect x="846.3" y="434.5" width="74.1" height="19" fill="none" stroke="#10e010" stroke-width="2.5"/>
<text x="850" y="447.9" font-size="13" fill="#10e010" font-weight="bold" text-anchor="start" textLength="56.6" lengthAdjust="spacingAndGlyphs" >Right Side</text>
<path d="M913 438.2L917.6 443H915.1V448.2H910.9V443H908.4Z" fill="#10e010"/>
<text x="927" y="455" font-size="9.3" fill="#222" font-weight="normal" text-anchor="start" textLength="29" lengthAdjust="spacingAndGlyphs" >113.54</text>
<defs><filter id="sh" x="-10%" y="-30%" width="130%" height="180%"><feGaussianBlur stdDeviation="0.8"/></filter></defs>
<text x="886.4" y="482.6" font-size="19.3" fill="#a0a0a0" font-weight="normal" text-anchor="start" textLength="97.6" lengthAdjust="spacingAndGlyphs" filter="url(#sh)">03.19.2020</text>
<text x="884.5" y="480.6" font-size="19.3" fill="#111" font-weight="normal" text-anchor="start" textLength="97.6" lengthAdjust="spacingAndGlyphs" >03.19.2020</text>
<path d="M988.5 27.5H991" stroke="#666" stroke-width="1"/>
<text x="991" y="30.3" font-size="7.6" fill="#222" font-weight="bold" text-anchor="start" textLength="21" lengthAdjust="spacingAndGlyphs" >240.00</text>
<path d="M988.5 61.5H991" stroke="#666" stroke-width="1"/>
<text x="991" y="64.3" font-size="7.6" fill="#222" font-weight="bold" text-anchor="start" textLength="21" lengthAdjust="spacingAndGlyphs" >230.00</text>
<path d="M988.5 95.5H991" stroke="#666" stroke-width="1"/>
<text x="991" y="98.3" font-size="7.6" fill="#222" font-weight="bold" text-anchor="start" textLength="21" lengthAdjust="spacingAndGlyphs" >220.00</text>
<path d="M988.5 129.4H991" stroke="#666" stroke-width="1"/>
<text x="991" y="132.2" font-size="7.6" fill="#222" font-weight="bold" text-anchor="start" textLength="21" lengthAdjust="spacingAndGlyphs" >210.00</text>
<path d="M988.5 163.4H991" stroke="#666" stroke-width="1"/>
<text x="991" y="166.2" font-size="7.6" fill="#222" font-weight="bold" text-anchor="start" textLength="21" lengthAdjust="spacingAndGlyphs" >200.00</text>
<path d="M988.5 197.4H991" stroke="#666" stroke-width="1"/>
<text x="991" y="200.2" font-size="7.6" fill="#222" font-weight="bold" text-anchor="start" textLength="21" lengthAdjust="spacingAndGlyphs" >190.00</text>
<path d="M988.5 231.4H991" stroke="#666" stroke-width="1"/>
<text x="991" y="234.2" font-size="7.6" fill="#222" font-weight="bold" text-anchor="start" textLength="21" lengthAdjust="spacingAndGlyphs" >180.00</text>
<path d="M988.5 265.4H991" stroke="#666" stroke-width="1"/>
<text x="991" y="268.2" font-size="7.6" fill="#222" font-weight="bold" text-anchor="start" textLength="21" lengthAdjust="spacingAndGlyphs" >170.00</text>
<path d="M988.5 299.3H991" stroke="#666" stroke-width="1"/>
<text x="991" y="302.1" font-size="7.6" fill="#222" font-weight="bold" text-anchor="start" textLength="21" lengthAdjust="spacingAndGlyphs" >160.00</text>
<path d="M988.5 333.3H991" stroke="#666" stroke-width="1"/>
<text x="991" y="336.1" font-size="7.6" fill="#222" font-weight="bold" text-anchor="start" textLength="21" lengthAdjust="spacingAndGlyphs" >150.00</text>
<path d="M988.5 367.3H991" stroke="#666" stroke-width="1"/>
<text x="991" y="370.1" font-size="7.6" fill="#222" font-weight="bold" text-anchor="start" textLength="21" lengthAdjust="spacingAndGlyphs" >140.00</text>
<path d="M988.5 401.3H991" stroke="#666" stroke-width="1"/>
<text x="991" y="404.1" font-size="7.6" fill="#222" font-weight="bold" text-anchor="start" textLength="21" lengthAdjust="spacingAndGlyphs" >130.00</text>
<path d="M988.5 435.3H991" stroke="#666" stroke-width="1"/>
<text x="991" y="438.1" font-size="7.6" fill="#222" font-weight="bold" text-anchor="start" textLength="21" lengthAdjust="spacingAndGlyphs" >120.00</text>
<path d="M988.5 469.2H991" stroke="#666" stroke-width="1"/>
<text x="991" y="472.0" font-size="7.6" fill="#222" font-weight="bold" text-anchor="start" textLength="21" lengthAdjust="spacingAndGlyphs" >110.00</text>
<path d="M988.5 194.2L992.5 190.4H1021.5V197.9H992.5Z" fill="#000"/>
<text x="992.6" y="197" font-size="7.6" fill="#fff" font-weight="bold" text-anchor="start" textLength="20.6" lengthAdjust="spacingAndGlyphs" >190.95</text>
<path d="M988.8 9.8L992 6.5H1021.5V13.5H992Z" fill="#666"/>
<text x="991.9" y="12.7" font-size="7.6" fill="#dde" font-weight="normal" text-anchor="start" textLength="20.1" lengthAdjust="spacingAndGlyphs" >245.53</text>
<rect x="975.7" y="10.7" width="7.4" height="7.2" fill="#444"/>
<path d="M977.5 13.2h3.2v2.8h-3.2z M978.6 12.2h3.2v2.8" stroke="#bbb" stroke-width="0.8" fill="none"/>
<path d="M63.5 488.5V490" stroke="#666" stroke-width="1"/>
<g transform="translate(63.4,498.3) scale(0.8,1)"><text x="0" y="0" font-size="8.2" fill="#222" font-weight="bold" text-anchor="middle" >Jun</text></g>
<path d="M93.5 488.5V490" stroke="#666" stroke-width="1"/>
<g transform="translate(92.7,498.3) scale(0.8,1)"><text x="0" y="0" font-size="8.2" fill="#222" font-weight="bold" text-anchor="middle" >Jul</text></g>
<path d="M123.5 488.5V490" stroke="#666" stroke-width="1"/>
<g transform="translate(123.3,498.3) scale(0.8,1)"><text x="0" y="0" font-size="8.2" fill="#222" font-weight="bold" text-anchor="middle" >Aug</text></g>
<path d="M155.5 488.5V490" stroke="#666" stroke-width="1"/>
<g transform="translate(154.6,498.3) scale(0.8,1)"><text x="0" y="0" font-size="8.2" fill="#222" font-weight="bold" text-anchor="middle" >Sep</text></g>
<path d="M183.5 488.5V490" stroke="#666" stroke-width="1"/>
<g transform="translate(182.6,498.3) scale(0.8,1)"><text x="0" y="0" font-size="8.2" fill="#222" font-weight="bold" text-anchor="middle" >Oct</text></g>
<path d="M215.5 488.5V490" stroke="#666" stroke-width="1"/>
<g transform="translate(215.2,498.3) scale(0.8,1)"><text x="0" y="0" font-size="8.2" fill="#222" font-weight="bold" text-anchor="middle" >Nov</text></g>
<path d="M244.5 488.5V490" stroke="#666" stroke-width="1"/>
<g transform="translate(244.5,498.3) scale(0.8,1)"><text x="0" y="0" font-size="8.2" fill="#222" font-weight="bold" text-anchor="middle" >Dec</text></g>
<path d="M271.5 488.5V490" stroke="#666" stroke-width="1"/>
<g transform="translate(271.3,498.3) scale(0.8,1)"><text x="0" y="0" font-size="8.2" fill="#222" font-weight="bold" text-anchor="middle" >Jan</text></g>
<path d="M300.5 488.5V490" stroke="#666" stroke-width="1"/>
<path d="M330.5 488.5V490" stroke="#666" stroke-width="1"/>
<g transform="translate(329.5,498.3) scale(0.8,1)"><text x="0" y="0" font-size="8.2" fill="#222" font-weight="bold" text-anchor="middle" >Mar</text></g>
<path d="M360.5 488.5V490" stroke="#666" stroke-width="1"/>
<g transform="translate(359.5,498.3) scale(0.8,1)"><text x="0" y="0" font-size="8.2" fill="#222" font-weight="bold" text-anchor="middle" >Apr</text></g>
<path d="M389.5 488.5V490" stroke="#666" stroke-width="1"/>
<g transform="translate(388.8,498.3) scale(0.8,1)"><text x="0" y="0" font-size="8.2" fill="#222" font-weight="bold" text-anchor="middle" >May</text></g>
<path d="M420.5 488.5V490" stroke="#666" stroke-width="1"/>
<g transform="translate(419.7,498.3) scale(0.8,1)"><text x="0" y="0" font-size="8.2" fill="#222" font-weight="bold" text-anchor="middle" >Jun</text></g>
<path d="M449.5 488.5V490" stroke="#666" stroke-width="1"/>
<g transform="translate(449,498.3) scale(0.8,1)"><text x="0" y="0" font-size="8.2" fill="#222" font-weight="bold" text-anchor="middle" >Jul</text></g>
<path d="M480.5 488.5V490" stroke="#666" stroke-width="1"/>
<g transform="translate(479.6,498.3) scale(0.8,1)"><text x="0" y="0" font-size="8.2" fill="#222" font-weight="bold" text-anchor="middle" >Aug</text></g>
<path d="M510.5 488.5V490" stroke="#666" stroke-width="1"/>
<g transform="translate(510.5,498.3) scale(0.8,1)"><text x="0" y="0" font-size="8.2" fill="#222" font-weight="bold" text-anchor="middle" >Sep</text></g>
<path d="M539.5 488.5V490" stroke="#666" stroke-width="1"/>
<g transform="translate(539.4,498.3) scale(0.8,1)"><text x="0" y="0" font-size="8.2" fill="#222" font-weight="bold" text-anchor="middle" >Oct</text></g>
<path d="M573.5 488.5V490" stroke="#666" stroke-width="1"/>
<g transform="translate(572.6,498.3) scale(0.8,1)"><text x="0" y="0" font-size="8.2" fill="#222" font-weight="bold" text-anchor="middle" >Nov</text></g>
<path d="M600.5 488.5V490" stroke="#666" stroke-width="1"/>
<g transform="translate(600.3,498.3) scale(0.8,1)"><text x="0" y="0" font-size="8.2" fill="#222" font-weight="bold" text-anchor="middle" >Dec</text></g>
<path d="M630.5 488.5V490" stroke="#666" stroke-width="1"/>
<g transform="translate(630.2,498.3) scale(0.8,1)"><text x="0" y="0" font-size="8.2" fill="#222" font-weight="bold" text-anchor="middle" >Jan</text></g>
<path d="M660.5 488.5V490" stroke="#666" stroke-width="1"/>
<g transform="translate(659.9,498.3) scale(0.8,1)"><text x="0" y="0" font-size="8.2" fill="#222" font-weight="bold" text-anchor="middle" >Feb</text></g>
<path d="M687.5 488.5V490" stroke="#666" stroke-width="1"/>
<g transform="translate(687.2,498.3) scale(0.8,1)"><text x="0" y="0" font-size="8.2" fill="#222" font-weight="bold" text-anchor="middle" >Mar</text></g>
<path d="M32.5 488.5V490" stroke="#666" stroke-width="1"/>
<rect x="282.6" y="491.3" width="36.7" height="8.2" fill="#666"/>
<text x="301" y="498.2" font-size="7.5" fill="#eee" font-weight="normal" text-anchor="middle" textLength="34" lengthAdjust="spacingAndGlyphs" >01/31/2019</text>
<text x="4.8" y="486.4" font-size="6.2" fill="#5a5a5a" font-weight="normal" text-anchor="start" textLength="35.3" lengthAdjust="spacingAndGlyphs" >© eSignal, 2020</text>
<text x="4" y="497" font-size="8" fill="#b4c0d4" font-weight="normal" text-anchor="start" textLength="10.2" lengthAdjust="spacingAndGlyphs" >Dyn</text>
<rect x="16.1" y="490" width="8.1" height="8" fill="#444"/>
<text x="20.2" y="496.6" font-size="6" fill="#eee" font-weight="bold" text-anchor="middle" textLength="6" lengthAdjust="spacingAndGlyphs" >Re</text>
</svg>
</body></html>
